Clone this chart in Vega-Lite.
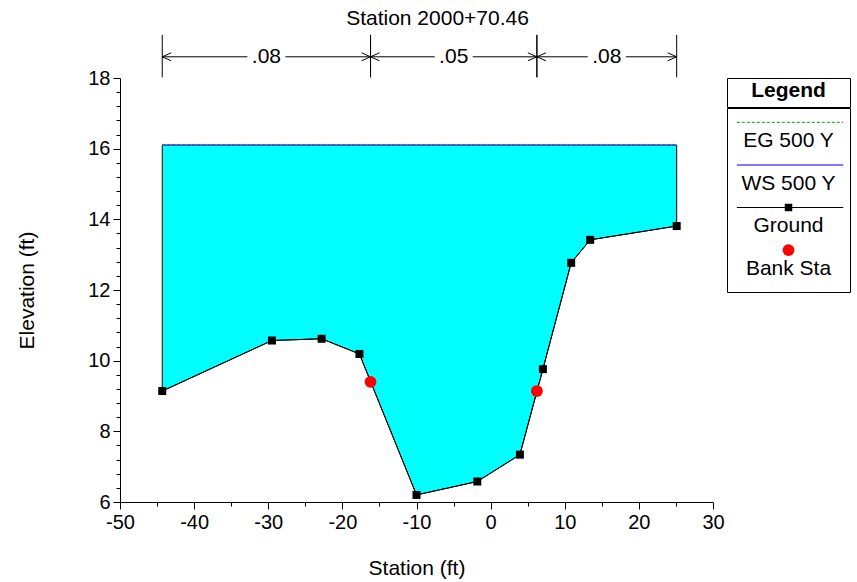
{
  "$schema": "https://vega.github.io/schema/vega-lite/v6.json",
  "background": "white",
  "padding": {"left": 16, "top": 8, "right": 2, "bottom": 2},
  "config": {
    "font": "Liberation Sans",
    "view": {"stroke": null},
    "axis": {"labelFontSize": 20, "titleFontSize": 21, "titleFontWeight": "normal", "labelColor": "black", "titleColor": "black", "domainColor": "black", "tickColor": "black", "grid": false, "labelFont": "Liberation Sans", "titleFont": "Liberation Sans"}
  },
  "datasets": {
    "ground": [
      {"sta": -44.3, "elev": 9.14},
      {"sta": -29.5, "elev": 10.57},
      {"sta": -22.8, "elev": 10.62},
      {"sta": -17.7, "elev": 10.19},
      {"sta": -10.0, "elev": 6.2},
      {"sta": -1.8, "elev": 6.58},
      {"sta": 3.95, "elev": 7.34},
      {"sta": 7.05, "elev": 9.76},
      {"sta": 10.87, "elev": 12.77},
      {"sta": 13.43, "elev": 13.42},
      {"sta": 25.1, "elev": 13.81}
    ],
    "banks": [
      {"sta": -16.2, "elev": 9.4},
      {"sta": 6.24, "elev": 9.14}
    ],
    "surfaces": [
      {"profile": "EG 500 Y", "from": -44.3, "to": 25.1, "elev": 16.12},
      {"profile": "WS 500 Y", "from": -44.3, "to": 25.1, "elev": 16.1}
    ],
    "reaches": [
      {"from": -44.3, "to": -16.2, "n": ".08"},
      {"from": -16.2, "to": 6.24, "n": ".05"},
      {"from": 6.24, "to": 25.1, "n": ".08"}
    ],
    "legendItems": [
      {"item": "EG 500 Y"},
      {"item": "WS 500 Y"},
      {"item": "Ground"},
      {"item": "Bank Sta"}
    ]
  },
  "spacing": 1,
  "hconcat": [
    {
      "width": 593,
      "height": 424,
      "title": {"text": "Station 2000+70.46", "fontSize": 21, "fontWeight": "normal", "font": "Liberation Sans", "color": "black", "frame": "group", "anchor": "middle", "dx": 21, "offset": 5},
      "layer": [
        {
          "data": {"name": "ground"},
          "mark": {"type": "area", "fill": "#00FFFF", "fillOpacity": 1, "stroke": "black", "strokeWidth": 1},
          "encoding": {
            "x": {"field": "sta", "type": "quantitative", "title": "Station (ft)",
              "scale": {"domain": [-50, 30], "nice": false, "zero": false},
              "axis": {"values": [-50, -45, -40, -35, -30, -25, -20, -15, -10, -5, 0, 5, 10, 15, 20, 25, 30],
                "tickCount": 200,
                "labelExpr": "datum.value % 10 == 0 ? toString(datum.value) : ''",
                "tickSize": {"condition": {"test": "datum.value % 10 == 0", "value": 7}, "value": 4},
                "labelPadding": 3, "titlePadding": 25, "labelFlush": false, "labelOverlap": false}},
            "y": {"field": "elev", "type": "quantitative", "title": "Elevation (ft)",
              "scale": {"domain": [6, 18], "nice": false, "zero": false},
              "axis": {"values": [6, 6.4, 6.8, 7.2, 7.6, 8, 8.4, 8.8, 9.2, 9.6, 10, 10.4, 10.8, 11.2, 11.6, 12, 12.4, 12.8, 13.2, 13.6, 14, 14.4, 14.8, 15.2, 15.6, 16, 16.4, 16.8, 17.2, 17.6, 18],
                "tickCount": 200,
                "labelExpr": "datum.value % 2 == 0 ? toString(datum.value) : ''",
                "tickSize": {"condition": {"test": "datum.value % 2 == 0", "value": 7}, "value": 4},
                "labelPadding": 3, "titlePadding": 50, "labelFlush": false, "labelOverlap": false}},
            "y2": {"datum": 16.1}
          }
        },
        {
          "data": {"name": "surfaces"},
          "transform": [{"filter": "datum.profile == 'EG 500 Y'"}],
          "mark": {"type": "rule", "color": "#00A000", "strokeWidth": 1, "strokeDash": [3, 2]},
          "encoding": {
            "x": {"field": "from", "type": "quantitative"},
            "x2": {"field": "to"},
            "y": {"field": "elev", "type": "quantitative"}
          }
        },
        {
          "data": {"name": "surfaces"},
          "transform": [{"filter": "datum.profile == 'WS 500 Y'"}],
          "mark": {"type": "rule", "color": "#4F4FFF", "strokeWidth": 1.3},
          "encoding": {
            "x": {"field": "from", "type": "quantitative"},
            "x2": {"field": "to"},
            "y": {"field": "elev", "type": "quantitative"}
          }
        },
        {
          "data": {"name": "ground"},
          "mark": {"type": "line", "color": "black", "strokeWidth": 1,
            "point": {"filled": true, "shape": "square", "size": 64, "color": "black", "opacity": 1}},
          "encoding": {
            "x": {"field": "sta", "type": "quantitative"},
            "y": {"field": "elev", "type": "quantitative"}
          }
        },
        {
          "data": {"name": "banks"},
          "mark": {"type": "point", "shape": "circle", "filled": true, "color": "#FF0000", "size": 140, "opacity": 1},
          "encoding": {
            "x": {"field": "sta", "type": "quantitative"},
            "y": {"field": "elev", "type": "quantitative"}
          }
        },
        {
          "data": {"name": "reaches"},
          "mark": {"type": "rule", "color": "black", "strokeWidth": 1},
          "encoding": {
            "x": {"field": "from", "type": "quantitative"},
            "y": {"datum": 18.02},
            "y2": {"datum": 19.22}
          }
        },
        {
          "data": {"name": "reaches"},
          "mark": {"type": "rule", "color": "black", "strokeWidth": 1},
          "encoding": {
            "x": {"field": "to", "type": "quantitative"},
            "y": {"datum": 18.02},
            "y2": {"datum": 19.22}
          }
        },
        {
          "data": {"name": "reaches"},
          "mark": {"type": "rule", "color": "black", "strokeWidth": 1},
          "encoding": {
            "x": {"field": "from", "type": "quantitative"},
            "x2": {"field": "to"},
            "y": {"datum": 18.6}
          }
        },
        {
          "data": {"name": "reaches"},
          "transform": [{"calculate": "(datum.from + datum.to) / 2", "as": "mid"}],
          "mark": {"type": "point", "shape": "M-1,-0.4H1V0.4H-1Z", "filled": true, "fill": "white", "strokeWidth": 0, "size": 1444, "opacity": 1},
          "encoding": {
            "x": {"field": "mid", "type": "quantitative"},
            "y": {"datum": 18.6}
          }
        },
        {
          "data": {"name": "reaches"},
          "transform": [{"calculate": "(datum.from + datum.to) / 2", "as": "mid"}],
          "mark": {"type": "text", "fontSize": 21, "color": "black", "baseline": "middle", "align": "center"},
          "encoding": {
            "x": {"field": "mid", "type": "quantitative"},
            "y": {"datum": 18.6},
            "text": {"field": "n"}
          }
        },
        {
          "data": {"name": "reaches"},
          "mark": {"type": "point", "shape": "M1.8,-0.8L0,0L1.8,0.8", "filled": false, "stroke": "black", "strokeWidth": 1, "size": 100, "opacity": 1},
          "encoding": {
            "x": {"field": "from", "type": "quantitative"},
            "y": {"datum": 18.6}
          }
        },
        {
          "data": {"name": "reaches"},
          "mark": {"type": "point", "shape": "M-1.8,-0.8L0,0L-1.8,0.8", "filled": false, "stroke": "black", "strokeWidth": 1, "size": 100, "opacity": 1},
          "encoding": {
            "x": {"field": "to", "type": "quantitative"},
            "y": {"datum": 18.6}
          }
        }
      ]
    },
    {
      "spacing": -1,
      "vconcat": [
        {
          "width": 123,
          "height": 29,
          "view": {"stroke": "black", "strokeWidth": 1},
          "data": {"values": [{"h": "Legend"}]},
          "mark": {"type": "text", "fontSize": 21, "fontWeight": "bold", "color": "black", "dy": -2},
          "encoding": {"text": {"field": "h"}}
        },
        {
          "width": 123,
          "height": 184,
          "view": {"stroke": "black", "strokeWidth": 1},
          "data": {"name": "legendItems"},
          "encoding": {
            "y": {"field": "item", "type": "ordinal", "axis": null,
              "scale": {"type": "point", "domain": ["EG 500 Y", "WS 500 Y", "Ground", "Bank Sta"], "padding": 0.661, "align": 0.255}}
          },
          "layer": [
            {
              "transform": [{"filter": "datum.item == 'EG 500 Y'"}],
              "mark": {"type": "rule", "color": "#00A000", "strokeWidth": 1, "strokeDash": [3, 2]},
              "encoding": {
                "x": {"datum": 0.08, "type": "quantitative", "scale": {"domain": [0, 1]}, "axis": null},
                "x2": {"datum": 0.945}
              }
            },
            {
              "transform": [{"filter": "datum.item == 'WS 500 Y'"}],
              "mark": {"type": "rule", "color": "#4F4FFF", "strokeWidth": 1.5},
              "encoding": {
                "x": {"datum": 0.08, "type": "quantitative", "scale": {"domain": [0, 1]}, "axis": null},
                "x2": {"datum": 0.945}
              }
            },
            {
              "transform": [{"filter": "datum.item == 'Ground'"}],
              "mark": {"type": "rule", "color": "black", "strokeWidth": 1},
              "encoding": {
                "x": {"datum": 0.08, "type": "quantitative", "scale": {"domain": [0, 1]}, "axis": null},
                "x2": {"datum": 0.945}
              }
            },
            {
              "transform": [{"filter": "datum.item == 'Ground'"}],
              "mark": {"type": "point", "shape": "square", "filled": true, "color": "black", "size": 56, "opacity": 1}
            },
            {
              "transform": [{"filter": "datum.item == 'Bank Sta'"}],
              "mark": {"type": "point", "shape": "circle", "filled": true, "color": "#FF0000", "size": 140, "opacity": 1}
            },
            {
              "mark": {"type": "text", "fontSize": 21, "color": "black", "baseline": "middle", "dy": 19},
              "encoding": {"text": {"field": "item"}}
            }
          ]
        }
      ]
    }
  ]
}
